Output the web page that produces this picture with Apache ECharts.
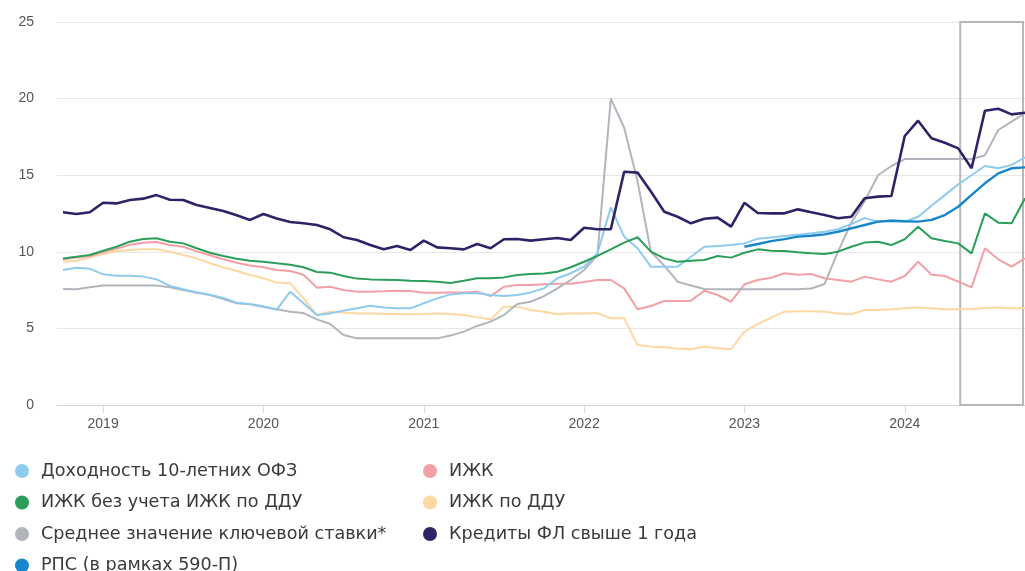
<!DOCTYPE html>
<html>
<head>
<meta charset="utf-8">
<script src="https://cdn.jsdelivr.net/npm/echarts@6/dist/echarts.min.js"></script>
<style>
  html, body { margin: 0; padding: 0; background: #ffffff; }
  #chart { width: 1025px; height: 571px; }
</style>
</head>
<body>
<div id="chart"></div>
<script>
// Monthly observations, October 2018 – October 2024
const months = [
  '2018-10','2018-11','2018-12',
  '2019-01','2019-02','2019-03','2019-04','2019-05','2019-06','2019-07','2019-08','2019-09','2019-10','2019-11','2019-12',
  '2020-01','2020-02','2020-03','2020-04','2020-05','2020-06','2020-07','2020-08','2020-09','2020-10','2020-11','2020-12',
  '2021-01','2021-02','2021-03','2021-04','2021-05','2021-06','2021-07','2021-08','2021-09','2021-10','2021-11','2021-12',
  '2022-01','2022-02','2022-03','2022-04','2022-05','2022-06','2022-07','2022-08','2022-09','2022-10','2022-11','2022-12',
  '2023-01','2023-02','2023-03','2023-04','2023-05','2023-06','2023-07','2023-08','2023-09','2023-10','2023-11','2023-12',
  '2024-01','2024-02','2024-03','2024-04','2024-05','2024-06','2024-07','2024-08','2024-09','2024-10'
];

const yearLabels = ['2019', '2020', '2021', '2022', '2023', '2024'];
const highlightFrom = '2024-05';
const highlightTo = '2024-10';

// Доходность 10-летних ОФЗ
const ofz10 = [
  8.81, 8.96, 8.90,
  8.53, 8.44, 8.44, 8.38, 8.20, 7.77, 7.55, 7.36, 7.20, 6.98, 6.68, 6.60,
  6.44, 6.22, 7.40, 6.64, 5.87, 5.98, 6.16, 6.31, 6.48, 6.37, 6.31, 6.31,
  6.64, 6.96, 7.22, 7.29, 7.29, 7.18, 7.11, 7.18, 7.35, 7.61, 8.27, 8.60,
  9.03, 9.90, 12.90, 10.99, 10.23, 9.03, 9.03, 9.03, 9.68, 10.33, 10.38, 10.44,
  10.55, 10.85, 10.94, 11.03, 11.12, 11.21, 11.31, 11.47, 11.81, 12.20, 11.97, 12.05,
  11.97, 12.29, 13.00, 13.70, 14.40, 15.00, 15.60, 15.45, 15.67, 16.17
];

// ИЖК
const mortgage = [
  9.51, 9.62, 9.73,
  9.98, 10.20, 10.46, 10.59, 10.64, 10.44, 10.33, 10.03, 9.77, 9.51, 9.29, 9.11,
  8.99, 8.81, 8.75, 8.50, 7.66, 7.72, 7.51, 7.40, 7.40, 7.42, 7.46, 7.44,
  7.33, 7.33, 7.35, 7.35, 7.40, 7.11, 7.72, 7.83, 7.83, 7.88, 7.92, 7.92,
  8.03, 8.16, 8.16, 7.61, 6.25, 6.46, 6.79, 6.79, 6.81, 7.46, 7.18, 6.74,
  7.88, 8.16, 8.31, 8.60, 8.50, 8.55, 8.27, 8.16, 8.05, 8.38, 8.20, 8.05,
  8.42, 9.35, 8.50, 8.42, 8.05, 7.68, 10.23, 9.51, 9.03, 9.57
];

// ИЖК без учета ИЖК по ДДУ
const mortgageExDdu = [
  9.57, 9.68, 9.79,
  10.07, 10.33, 10.66, 10.83, 10.88, 10.66, 10.55, 10.23, 9.94, 9.73, 9.55, 9.42,
  9.35, 9.25, 9.16, 8.99, 8.68, 8.64, 8.42, 8.25, 8.20, 8.18, 8.16, 8.11,
  8.10, 8.05, 7.96, 8.11, 8.27, 8.27, 8.33, 8.49, 8.55, 8.59, 8.70, 8.99,
  9.35, 9.73, 10.16, 10.60, 10.95, 10.01, 9.57, 9.35, 9.42, 9.46, 9.73, 9.62,
  9.94, 10.16, 10.07, 10.05, 9.97, 9.90, 9.86, 10.01, 10.33, 10.60, 10.66, 10.44,
  10.82, 11.64, 10.88, 10.70, 10.55, 9.90, 12.51, 11.90, 11.86, 13.49
];

// ИЖК по ДДУ
const mortgageDdu = [
  9.35, 9.42, 9.62,
  9.85, 10.03, 10.12, 10.16, 10.16, 10.01, 9.79, 9.57, 9.25, 8.99, 8.75, 8.49,
  8.27, 7.99, 7.95, 6.96, 5.87, 6.09, 6.03, 5.98, 5.98, 5.94, 5.94, 5.92,
  5.94, 5.98, 5.94, 5.87, 5.72, 5.59, 6.42, 6.42, 6.20, 6.09, 5.92, 5.98,
  5.98, 6.00, 5.66, 5.66, 3.92, 3.81, 3.77, 3.68, 3.64, 3.81, 3.70, 3.64,
  4.79, 5.30, 5.70, 6.09, 6.12, 6.12, 6.09, 5.98, 5.92, 6.20, 6.20, 6.25,
  6.31, 6.37, 6.31, 6.25, 6.25, 6.27, 6.33, 6.37, 6.31, 6.31
];

// Среднее значение ключевой ставки*
const keyRate = [
  7.57, 7.55, 7.68,
  7.80, 7.80, 7.80, 7.80, 7.80, 7.68, 7.51, 7.33, 7.18, 6.92, 6.64, 6.57,
  6.40, 6.25, 6.09, 6.00, 5.59, 5.29, 4.57, 4.35, 4.35, 4.35, 4.35, 4.35,
  4.35, 4.35, 4.53, 4.79, 5.16, 5.44, 5.87, 6.59, 6.74, 7.11, 7.61, 8.16,
  8.81, 9.79, 20.00, 18.10, 14.60, 10.00, 9.10, 8.05, 7.80, 7.57, 7.55, 7.55,
  7.55, 7.55, 7.55, 7.55, 7.55, 7.60, 7.90, 10.00, 11.90, 13.30, 15.00, 15.60,
  16.05, 16.05, 16.05, 16.05, 16.05, 16.05, 16.30, 17.95, 18.50, 19.05
];

// Кредиты ФЛ свыше 1 года
const loansOver1y = [
  12.58, 12.47, 12.58,
  13.20, 13.16, 13.38, 13.47, 13.70, 13.40, 13.38, 13.05, 12.86, 12.66, 12.38, 12.08,
  12.47, 12.18, 11.95, 11.86, 11.75, 11.47, 10.95, 10.77, 10.44, 10.16, 10.38, 10.12,
  10.73, 10.29, 10.23, 10.16, 10.51, 10.23, 10.82, 10.84, 10.73, 10.82, 10.90, 10.77,
  11.57, 11.47, 11.47, 15.23, 15.17, 13.93, 12.62, 12.29, 11.86, 12.16, 12.23, 11.64,
  13.20, 12.53, 12.51, 12.51, 12.77, 12.58, 12.40, 12.19, 12.29, 13.49, 13.60, 13.64,
  17.56, 18.56, 17.41, 17.12, 16.75, 15.45, 19.21, 19.34, 18.97, 19.08
];

// РПС (в рамках 590-П), reported from January 2023
const rpsFrom = '2023-01';
const rps590 = [
  10.33, 10.51, 10.70, 10.83, 10.99, 11.05, 11.14, 11.31, 11.53, 11.75, 11.97, 12.03,
  11.99, 11.97, 12.08, 12.40, 12.94, 13.71, 14.47, 15.12, 15.45, 15.51
];

const idx = m => months.indexOf(m);
const yearTicks = yearLabels.map(y => idx(y + '-01'));
const pairs = (arr, start) => arr.map((v, i) => [(start || 0) + i, v]);

const chart = echarts.init(document.getElementById('chart'), null, { renderer: 'canvas' });

function line(name, data, color, width, z) {
  return {
    name, type: 'line', data, z,
    symbol: 'none', smooth: false,
    lineStyle: { color, width },
    itemStyle: { color },
    emphasis: { disabled: true }
  };
}

const series = [
  line('ИЖК по ДДУ', pairs(mortgageDdu), '#fdd8a0', 2, 2),
  line('ИЖК', pairs(mortgage), '#f29fa6', 2, 3),
  line('Среднее значение ключевой ставки*', pairs(keyRate), '#b2b5bc', 2, 4),
  line('Доходность 10-летних ОФЗ', pairs(ofz10), '#8ecbef', 2, 5),
  line('ИЖК без учета ИЖК по ДДУ', pairs(mortgageExDdu), '#2a9e5a', 2, 6),
  line('РПС (в рамках 590-П)', pairs(rps590, idx(rpsFrom)), '#1786cb', 2.4, 7),
  line('Кредиты ФЛ свыше 1 года', pairs(loansOver1y), '#2b2567', 2.6, 8)
];

// outlined window over the most recent months
series[6].markArea = {
  silent: true,
  itemStyle: { color: 'rgba(0,0,0,0)', borderColor: '#b7b7b7', borderWidth: 2 },
  data: [[
    { xAxis: idx(highlightFrom) + 0.15, yAxis: 25 },
    { xAxis: idx(highlightTo) - 0.15, yAxis: 0 }
  ]]
};

const legendText = {
  fontFamily: 'DejaVu Sans', fontSize: 17.6, color: '#3a3a3a',
  lineHeight: 18, padding: [0, 0, 0, 7]
};

const legendBase = {
  orient: 'vertical', top: 457, height: 140, itemGap: 13.5,
  icon: 'circle', itemWidth: 14, itemHeight: 14,
  selectedMode: false, textStyle: legendText
};

chart.setOption({
  animation: false,
  backgroundColor: '#ffffff',
  grid: { left: 57, right: 0, top: 22, bottom: 166, containLabel: false },
  legend: [
    Object.assign({}, legendBase, {
      left: 10,
      data: ['Доходность 10-летних ОФЗ', 'ИЖК без учета ИЖК по ДДУ',
             'Среднее значение ключевой ставки*', 'РПС (в рамках 590-П)']
    }),
    Object.assign({}, legendBase, {
      left: 418,
      data: ['ИЖК', 'ИЖК по ДДУ', 'Кредиты ФЛ свыше 1 года']
    })
  ],
  xAxis: {
    type: 'value',
    min: -0.45,
    max: months.length - 1,
    splitLine: { show: false },
    axisLine: { show: true, lineStyle: { color: '#d7d7d7', width: 1 } },
    axisTick: { show: true, customValues: yearTicks, length: 8, lineStyle: { color: '#d7d7d7' } },
    axisLabel: {
      customValues: yearTicks,
      formatter: v => yearLabels[yearTicks.indexOf(Math.round(v))],
      margin: 12, fontFamily: 'Liberation Sans', fontSize: 14, color: '#555555'
    }
  },
  yAxis: {
    type: 'value',
    min: 0, max: 25, interval: 5,
    axisLine: { show: false },
    axisTick: { show: false },
    splitLine: { lineStyle: { color: '#e8e8e8', width: 1 } },
    axisLabel: { margin: 23, fontFamily: 'Liberation Sans', fontSize: 14, color: '#555555' }
  },
  series
});
</script>
</body>
</html>
